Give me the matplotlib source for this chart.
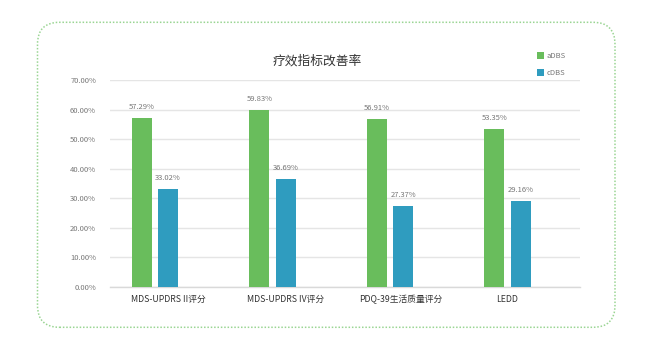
import matplotlib
matplotlib.use("Agg")
import matplotlib.pyplot as plt
from matplotlib.patches import FancyBboxPatch, Patch
from matplotlib.ticker import FuncFormatter
import numpy as np

plt.rcParams['font.family'] = ['Noto Sans CJK SC', 'DejaVu Sans']

categories = ["MDS-UPDRS II评分", "MDS-UPDRS IV评分", "PDQ-39生活质量评分", "LEDD"]
series_names = ["aDBS", "cDBS"]
adbs = [57.29, 59.83, 56.91, 53.35]
cdbs = [33.02, 36.69, 27.37, 29.16]
yticks = [0, 10, 20, 30, 40, 50, 60, 70]
title = "疗效指标改善率"

green = "#69bd5c"
blue = "#2f9cbf"

fig = plt.figure(figsize=(6.5, 3.5), dpi=100)
fig.patch.set_facecolor("white")

# dotted rounded border
border = FancyBboxPatch((37.5, 22.7), 577.5, 305.0,
                        boxstyle="round,pad=0,rounding_size=22",
                        transform=None, fill=False, edgecolor="#9ad593",
                        linewidth=1.1, linestyle=(0, (1, 1.2)))
fig.patches.append(border)

ax = fig.add_axes([110/650, 63.3/350, 470/650, 206.4/350])
x = np.arange(len(categories))
w = 20/117.5
b1 = ax.bar(x - 0.228, adbs, width=w, color=green, zorder=3)
b2 = ax.bar(x - 0.006, cdbs, width=w, color=blue, zorder=3)

for bars, vals in ((b1, adbs), (b2, cdbs)):
    for r, v in zip(bars, vals):
        ax.annotate(f"{v:.2f}%", (r.get_x() + r.get_width()/2, v),
                    xytext=(0, 7), textcoords="offset pixels",
                    ha="center", va="bottom", fontsize=5.5, color="#777777")

ax.set_xlim(-0.5, 3.5)
ax.set_ylim(0, 70)
ax.set_yticks(yticks)
ax.yaxis.set_major_formatter(FuncFormatter(lambda v, p: f"{v:.2f}%"))
ax.tick_params(axis="y", length=0, labelsize=5.5, labelcolor="#777777", pad=10)
ax.grid(axis="y", color="#e5e5e5", linewidth=1.0, zorder=0)
ax.set_xticks([])
label_off = [0.0, -0.01, -0.023, -0.12]
for i, c in enumerate(categories):
    ax.text(i + label_off[i], -4.2, c, ha="center", va="center",
            fontsize=6.3, color="#333333")
for s in ("top", "right", "left"):
    ax.spines[s].set_visible(False)
ax.spines["bottom"].set_color("#d9d9d9")
ax.spines["bottom"].set_linewidth(1.0)

fig.text(317/650, 1 - 61/350, title, ha="center", va="center",
         fontsize=9.2, color="#333333")

handles = [Patch(facecolor=green, edgecolor="none"), Patch(facecolor=blue, edgecolor="none")]
fig.legend(handles, series_names, loc="upper left",
           bbox_to_anchor=(537/650, 1 - 52/350), frameon=False,
           fontsize=5.5, labelcolor="#777777", handlelength=0.9, handleheight=0.9,
           handletextpad=0.4, labelspacing=1.2, borderaxespad=0, borderpad=0)

fig.savefig("out.png", dpi=100, facecolor="white")
